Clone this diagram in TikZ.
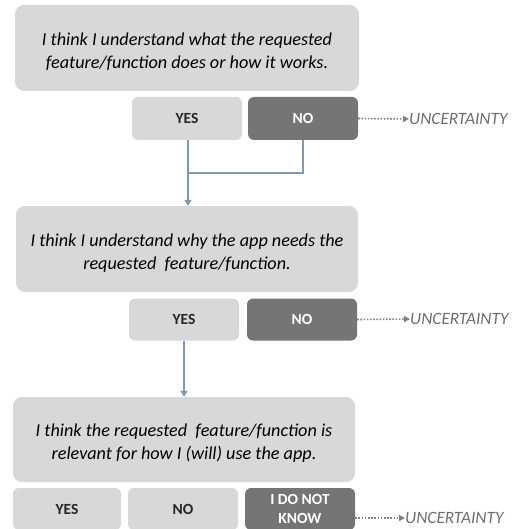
\documentclass[tikz,border=0pt]{standalone}
\usepackage{fontspec}
\setmainfont{Carlito}
\usetikzlibrary{arrows.meta}
\definecolor{boxlight}{HTML}{D8D8D8}
\definecolor{boxdark}{HTML}{757575}
\definecolor{flow}{HTML}{7F97B3}
\definecolor{dotgray}{HTML}{7F7F7F}
\definecolor{unctext}{HTML}{6E6E6E}
\newcommand{\qstrut}{\rule{0pt}{20.5pt}}
\tikzset{
  question/.style={fill=boxlight, rounded corners=9pt, inner sep=0pt, align=center,
    font=\fontsize{18.2}{23}\selectfont\itshape, text=black},
  answerlight/.style={fill=boxlight, rounded corners=6pt, inner sep=0pt, align=center,
    font=\fontsize{15.5}{19}\selectfont\bfseries, text=black!85},
  answerdark/.style={fill=boxdark, rounded corners=6pt, inner sep=0pt, align=center,
    font=\fontsize{15.5}{19}\selectfont\bfseries, text=white},
  unc/.style={anchor=west, inner sep=0pt, text=unctext, font=\fontsize{17.3}{20}\selectfont\itshape},
  flowarrow/.style={draw=flow, line width=2pt, -{Triangle[width=7pt,length=6pt]}},
  flowline/.style={draw=flow, line width=2pt},
  dotarrow/.style={draw=dotgray, line width=1.6pt, dash pattern=on 1.6pt off 1.6pt, -{Triangle[width=6pt,length=6pt]}}
}
\begin{document}
\begin{tikzpicture}[x=1pt,y=-1pt]
\useasboundingbox (0,0) rectangle (516,529);
% question 1
\node[question, minimum width=344pt, minimum height=86pt] (q1) at (187,48)
  {\qstrut I think I understand what the requested\\feature/function does or how it works.};
\node[answerlight, minimum width=110pt, minimum height=43pt] (yes1) at (187,118.5) {YES};
\node[answerdark, minimum width=110pt, minimum height=43pt] (no1) at (303,118.5) {NO};
\node[unc] (unc1) at (409,119) {UNCERTAINTY};
% question 2
\node[question, minimum width=342pt, minimum height=86pt] (q2) at (187,249)
  {\qstrut I think I understand why the app needs the\\requested\ \ feature/function.};
\node[answerlight, minimum width=110pt, minimum height=42pt] (yes2) at (184,319.5) {YES};
\node[answerdark, minimum width=110pt, minimum height=42pt] (no2) at (302,319.5) {NO};
\node[unc] (unc2) at (410,319) {UNCERTAINTY};
% question 3
\node[question, minimum width=342pt, minimum height=85pt] (q3) at (184,439.5)
  {\qstrut I think the requested\ \ feature/function is\\relevant for how I (will) use the app.};
\node[answerlight, minimum width=108pt, minimum height=42pt] (yes3) at (67,509) {YES};
\node[answerlight, minimum width=110pt, minimum height=42pt] (no3) at (183,509) {NO};
\node[answerdark, minimum width=110pt, minimum height=42pt] (idk3) at (300,509) {I DO NOT\\KNOW};
\node[unc] (unc3) at (405,518) {UNCERTAINTY};
% connectors
\coordinate (j1) at (188,173);
\draw[flowarrow] (yes1.south -| j1) -- (j1 |- q2.north);
\draw[flowline] (no1.south) |- (j1);
\draw[flowarrow] (yes2.south) -- (yes2.south |- q3.north);
\draw[dotarrow] (no1.east) -- (unc1.west);
\draw[dotarrow] (no2.east) -- (unc2.west);
\draw[dotarrow] (idk3.east |- unc3.west) -- (unc3.west);
\end{tikzpicture}
\end{document}
